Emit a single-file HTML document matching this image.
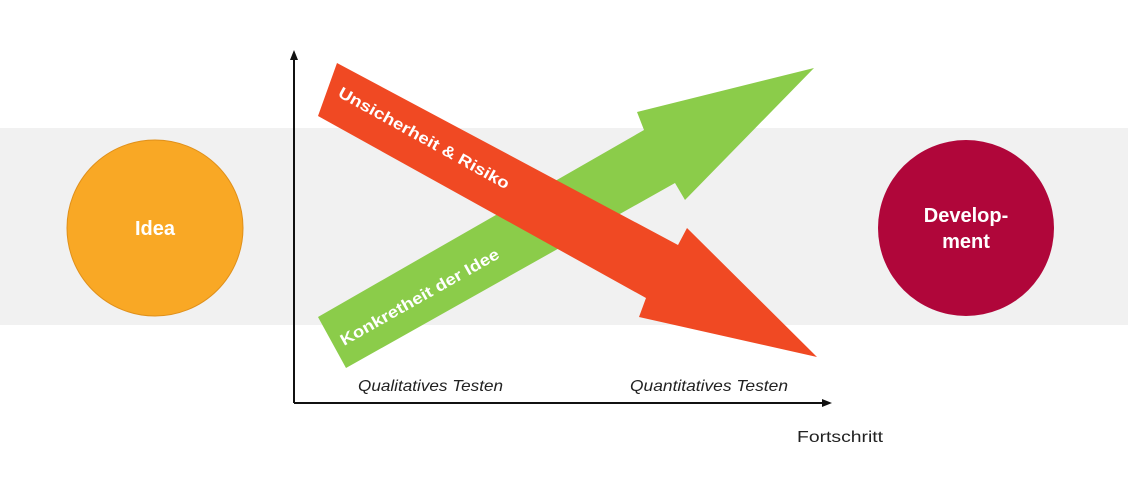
<!DOCTYPE html>
<html><head><meta charset="utf-8"><style>
body{margin:0;width:1128px;height:489px;background:#fff;overflow:hidden;}
svg{display:block}
</style></head><body>
<svg width="1128" height="489" xmlns="http://www.w3.org/2000/svg" font-family="Liberation Sans, sans-serif">
<rect x="0" y="128" width="1128" height="197" fill="#f1f1f1"/>
<circle cx="155" cy="228" r="88" fill="#f9a825" stroke="#e0901a" stroke-width="1"/>
<text x="155" y="235" text-anchor="middle" font-size="20" font-weight="bold" fill="#fff">Idea</text>
<circle cx="966" cy="228" r="88" fill="#b0063a"/>
<text x="966" y="222" text-anchor="middle" font-size="20" font-weight="bold" fill="#fff">Develop-</text>
<text x="966" y="248" text-anchor="middle" font-size="20" font-weight="bold" fill="#fff">ment</text>
<line x1="294" y1="58" x2="294" y2="403" stroke="#111" stroke-width="2"/>
<polygon points="294,50 290,60 298,60" fill="#111"/>
<line x1="294" y1="403" x2="824" y2="403" stroke="#111" stroke-width="2"/>
<polygon points="832,403 822,399 822,407" fill="#111"/>
<polygon points="318,317 644,130 637,112 814,68 685,200 675,183 346,368" fill="#8bcc4a"/>
<polygon points="337,63 318,116 646,298 639,317 817,357 687,228 678,245" fill="#f04923"/>
<text transform="translate(337,96) rotate(29)" font-size="16" font-weight="bold" fill="#fff" textLength="193" lengthAdjust="spacingAndGlyphs">Unsicherheit &amp; Risiko</text>
<text transform="translate(344,346) rotate(-29.5)" font-size="16" font-weight="bold" fill="#fff" textLength="180" lengthAdjust="spacingAndGlyphs">Konkretheit der Idee</text>
<text x="358" y="391" font-size="16" font-style="italic" fill="#222" textLength="145" lengthAdjust="spacingAndGlyphs">Qualitatives Testen</text>
<text x="630" y="391" font-size="16" font-style="italic" fill="#222" textLength="158" lengthAdjust="spacingAndGlyphs">Quantitatives Testen</text>
<text x="797" y="442" font-size="16" fill="#222" textLength="86" lengthAdjust="spacingAndGlyphs">Fortschritt</text>
</svg>
</body></html>
